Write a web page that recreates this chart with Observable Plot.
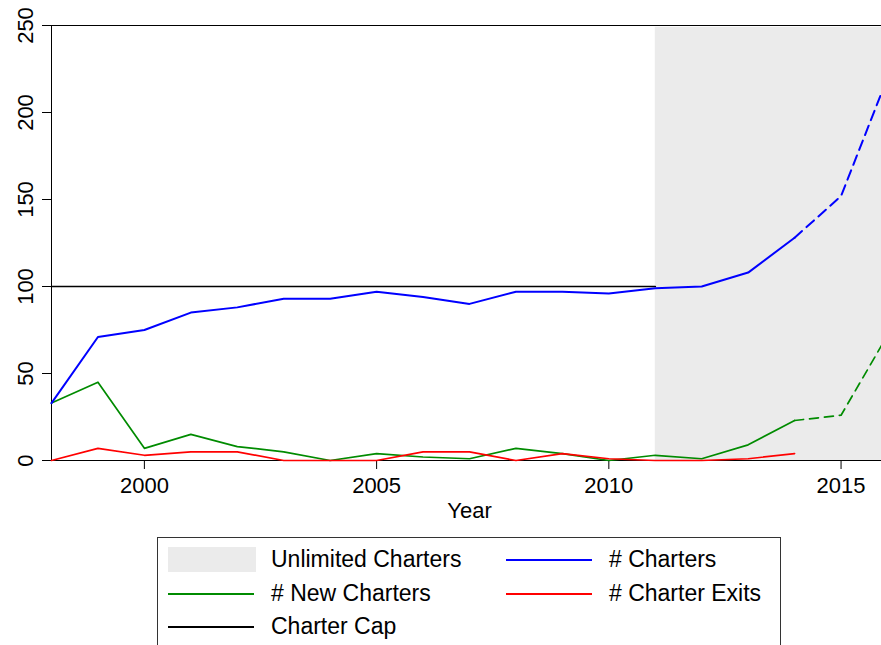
<!DOCTYPE html>
<html>
<head>
<meta charset="utf-8">
<script src="https://cdn.jsdelivr.net/npm/d3@7"></script>
<script src="https://cdn.jsdelivr.net/npm/@observablehq/plot@0.6"></script>
<style>
  body { margin: 0; background: #fff; font-family: "Liberation Sans", Arial, Helvetica, sans-serif; }
  #wrap { position: relative; width: 881px; height: 645px; overflow: hidden; background: #fff; }
  #chart { position: absolute; left: 0; top: 0; }
  #legend { position: absolute; left: 157px; top: 537px; width: 624px; height: 120px;
            border: 1px solid #333; box-sizing: border-box; font-size: 23px; color: #000; }
  .lbl { position: absolute; white-space: nowrap; line-height: 1; }
</style>
</head>
<body>
<div id="wrap">
  <div id="chart"></div>
  <div id="legend"></div>
</div>
<script>
// ---- data ----
const years       = [1998,1999,2000,2001,2002,2003,2004,2005,2006,2007,2008,2009,2010,2011,2012,2013,2014,2015,2016];
const charters    = [33,  71,  75,  85,  88,  93,  93,  97,  94,  90,  97,  97,  96,  99,  100, 108, 128, 152, 220];
const newCharters = [33,  45,  7,   15,  8,   5,   0,   4,   2,   1,   7,   4,   0,   3,   1,   9,   23,  26,  72];
const exitYears   = [1998,1999,2000,2001,2002,2003,2004,2005,2006,2007,2008,2009,2010,2011,2012,2013,2014];
const exits       = [0,   7,   3,   5,   5,   0,   0,   0,   5,   5,   0,   4,   1,   0,   0,   1,   4];
const capYears    = [1998, 2011];
const capValues   = [100, 100];
const unlimitedYears = [2011, 2016];
const projectedFrom  = 2014;
const xTicks = [2000, 2005, 2010, 2015];
const yTicks = [0, 50, 100, 150, 200, 250];
const legendLabels = ["Unlimited Charters", "# Charters", "# New Charters", "# Charter Exits", "Charter Cap"];

const C_BLUE = "#0000ff", C_GREEN = "#008b00", C_RED = "#ff0000", C_BLACK = "#000000", C_SHADE = "#ebebeb";

// ---- tables ----
const chartersT = years.map((y, i) => ({year: y, value: charters[i]}));
const newT      = years.map((y, i) => ({year: y, value: newCharters[i]}));
const exitsT    = exitYears.map((y, i) => ({year: y, value: exits[i]}));
const capT      = capYears.map((y, i) => ({year: y, value: capValues[i]}));
const shadeT    = [{x1: unlimitedYears[0], x2: unlimitedYears[1]}];

const solid  = t => t.filter(d => d.year <= projectedFrom);
const dashed = t => t.filter(d => d.year >= projectedFrom);

const chart = Plot.plot({
  width: 881,
  height: 537,
  marginLeft: 51,
  marginRight: -6,
  marginTop: 25,
  marginBottom: 77,
  x: {domain: [1998, 2016]},
  y: {domain: [0, 250]},
  style: {fontFamily: "Liberation Sans, Arial, Helvetica, sans-serif", fontSize: "22px", background: "white", color: "black"},
  marks: [
    Plot.rect(shadeT, {x1: "x1", x2: "x2", y1: 0, y2: 249, fill: C_SHADE}),
    Plot.frame({stroke: "black", strokeWidth: 1}),
    Plot.axisX({ticks: xTicks, tickFormat: d => String(d), tickSize: 9, tickPadding: 8, label: null, fontSize: 22}),
    Plot.axisY({ticks: yTicks, tickFormat: () => "", tickSize: 9, label: null}),
    Plot.text(yTicks, {y: d => d, text: d => String(d), frameAnchor: "left", dx: -26, rotate: -90,
                       textAnchor: "middle", lineAnchor: "middle", fontSize: 22}),
    Plot.text(["Year"], {frameAnchor: "bottom", dy: 50, lineAnchor: "middle", fontSize: 22}),
    Plot.line(capT, {x: "year", y: "value", stroke: C_BLACK, strokeWidth: 1.7}),
    Plot.line(solid(newT), {x: "year", y: "value", stroke: C_GREEN, strokeWidth: 1.7}),
    Plot.line(dashed(newT), {x: "year", y: "value", stroke: C_GREEN, strokeWidth: 1.7, strokeDasharray: "9,6"}),
    Plot.line(exitsT, {x: "year", y: "value", stroke: C_RED, strokeWidth: 1.7}),
    Plot.line(solid(chartersT), {x: "year", y: "value", stroke: C_BLUE, strokeWidth: 2}),
    Plot.line(dashed(chartersT), {x: "year", y: "value", stroke: C_BLUE, strokeWidth: 2, strokeDasharray: "10,6"})
  ]
});
document.getElementById("chart").appendChild(chart);

// ---- legend ----
const legend = document.getElementById("legend");
const entries = [
  {label: legendLabels[0], kind: "rect", color: C_SHADE, col: 0, row: 0},
  {label: legendLabels[1], kind: "line", color: C_BLUE,  col: 1, row: 0},
  {label: legendLabels[2], kind: "line", color: C_GREEN, col: 0, row: 1},
  {label: legendLabels[3], kind: "line", color: C_RED,   col: 1, row: 1},
  {label: legendLabels[4], kind: "line", color: C_BLACK, col: 0, row: 2}
];
const colSwatchX = [10, 348];
const colTextX = [113, 451];
const rowCY = [22, 56, 89];
entries.forEach(e => {
  const sw = document.createElement("div");
  sw.style.position = "absolute";
  sw.style.left = colSwatchX[e.col] + "px";
  if (e.kind === "rect") {
    sw.style.width = "88px"; sw.style.height = "25px";
    sw.style.top = (rowCY[e.row] - 13) + "px";
  } else {
    sw.style.width = "86px"; sw.style.height = "2px";
    sw.style.top = (rowCY[e.row] - 1) + "px";
  }
  sw.style.background = e.color;
  legend.appendChild(sw);
  const t = document.createElement("div");
  t.className = "lbl";
  t.textContent = e.label;
  t.style.left = colTextX[e.col] + "px";
  t.style.top = (rowCY[e.row] - 12) + "px";
  legend.appendChild(t);
});
</script>
</body>
</html>
